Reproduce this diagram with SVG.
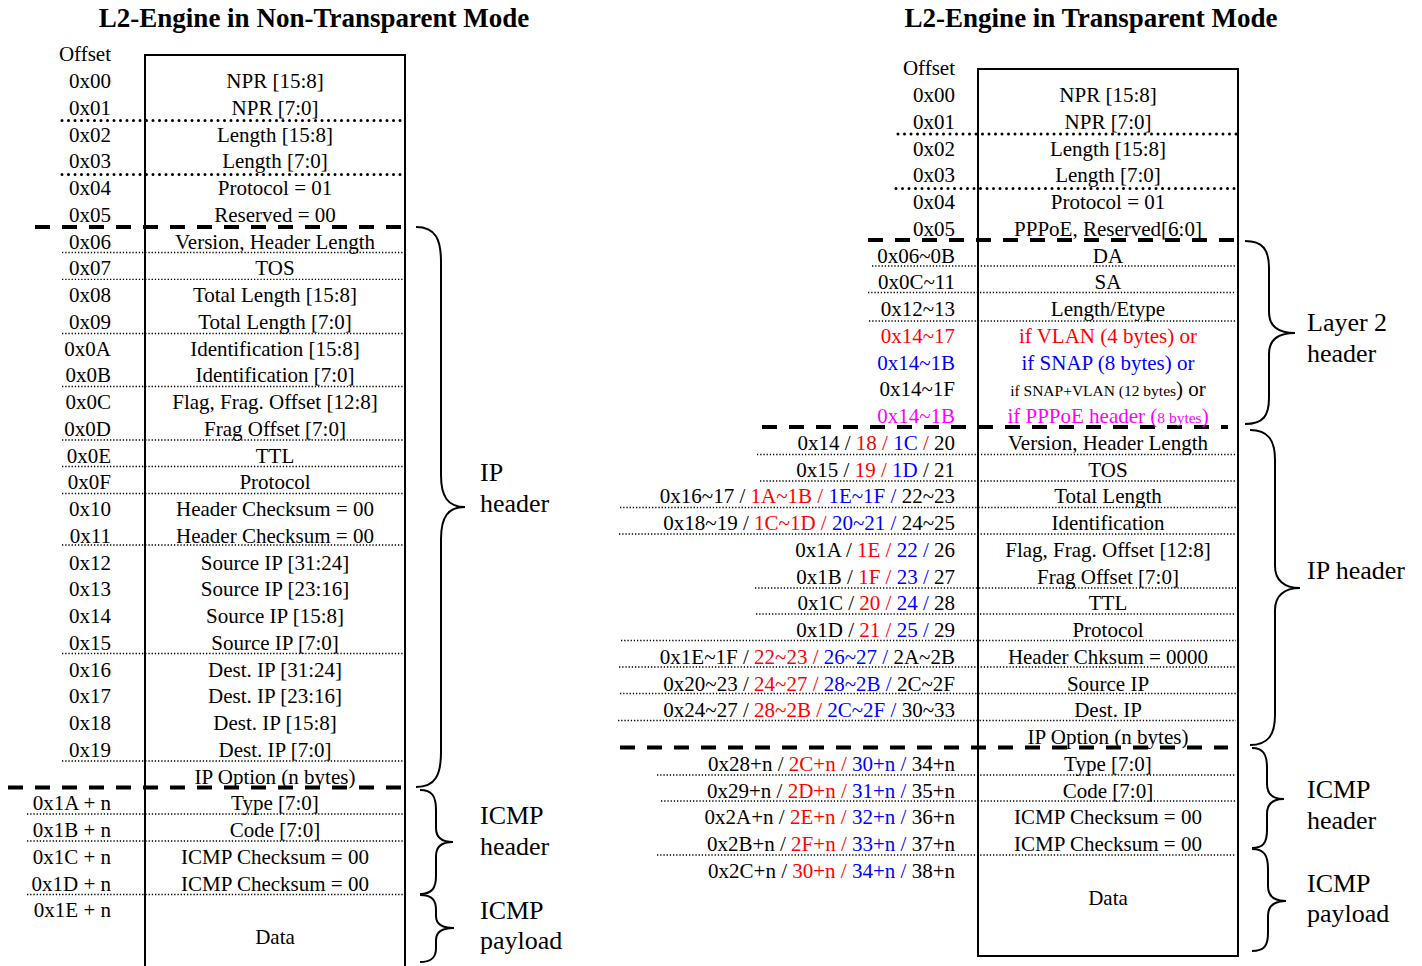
<svg xmlns="http://www.w3.org/2000/svg" width="1422" height="966" viewBox="0 0 1422 966">
<style>
text{font-family:"Liberation Serif","Times New Roman",serif;font-size:21px;fill:#000}
.t{font-weight:bold;font-size:27px;text-anchor:middle}
.o{text-anchor:end}
.c{text-anchor:middle}
.lbl{font-size:26px}
.r{fill:#FF0000}
.b{fill:#0000FF}
.m{fill:#FF00FF}
.sm{font-size:15.5px}
.box{fill:none;stroke:#000;stroke-width:2}
.thin{stroke:#000;stroke-width:1.3;stroke-dasharray:1.3 1.9;fill:none}
.thick{stroke:#000;stroke-width:3;stroke-dasharray:0 6.5;stroke-linecap:round;fill:none}
.dash{stroke:#000;stroke-width:4;stroke-dasharray:15 12;fill:none}
.brace{fill:none;stroke:#000;stroke-width:2}
</style>

<g id="titles">
<text class="t" x="314" y="27">L2-Engine in Non-Transparent Mode</text>
<text class="t" x="1091" y="27">L2-Engine in Transparent Mode</text>
</g>

<!-- LEFT TABLE -->
<g id="left-separators">
<line class="thick" x1="62" y1="120.5" x2="405" y2="120.5"/>
<line class="thick" x1="62" y1="174.5" x2="405" y2="174.5"/>
<line class="dash" x1="35" y1="227" x2="405" y2="227"/>
<line class="thin" x1="62" y1="252.5" x2="403" y2="252.5"/>
<line class="thin" x1="62" y1="279.3" x2="403" y2="279.3"/>
<line class="thin" x1="62" y1="333.5" x2="403" y2="333.5"/>
<line class="thin" x1="62" y1="386.5" x2="403" y2="386.5"/>
<line class="thin" x1="62" y1="440" x2="403" y2="440"/>
<line class="thin" x1="62" y1="466.5" x2="403" y2="466.5"/>
<line class="thin" x1="62" y1="493.5" x2="403" y2="493.5"/>
<line class="thin" x1="62" y1="545" x2="403" y2="545"/>
<line class="thin" x1="62" y1="653.5" x2="403" y2="653.5"/>
<line class="thin" x1="62" y1="761" x2="403" y2="761"/>
<line class="dash" x1="8" y1="787.5" x2="405" y2="787.5"/>
<line class="thin" x1="27" y1="814" x2="403" y2="814"/>
<line class="thin" x1="27" y1="841" x2="403" y2="841"/>
<line class="thin" x1="27" y1="894.5" x2="403" y2="894.5"/>
</g>

<g id="left-box">
<path class="box" d="M145 966 V55 H405 V966"/>
</g>

<g id="left-offsets">
<text class="o" x="111" y="61">Offset</text>
<text class="o" x="111" y="88">0x00</text>
<text class="o" x="111" y="114.75">0x01</text>
<text class="o" x="111" y="141.5">0x02</text>
<text class="o" x="111" y="168.25">0x03</text>
<text class="o" x="111" y="195">0x04</text>
<text class="o" x="111" y="221.75">0x05</text>
<text class="o" x="111" y="248.5">0x06</text>
<text class="o" x="111" y="275.25">0x07</text>
<text class="o" x="111" y="302">0x08</text>
<text class="o" x="111" y="328.75">0x09</text>
<text class="o" x="111" y="355.5">0x0A</text>
<text class="o" x="111" y="382.25">0x0B</text>
<text class="o" x="111" y="409">0x0C</text>
<text class="o" x="111" y="435.75">0x0D</text>
<text class="o" x="111" y="462.5">0x0E</text>
<text class="o" x="111" y="489.25">0x0F</text>
<text class="o" x="111" y="516">0x10</text>
<text class="o" x="111" y="542.75">0x11</text>
<text class="o" x="111" y="569.5">0x12</text>
<text class="o" x="111" y="596.25">0x13</text>
<text class="o" x="111" y="623">0x14</text>
<text class="o" x="111" y="649.75">0x15</text>
<text class="o" x="111" y="676.5">0x16</text>
<text class="o" x="111" y="703.25">0x17</text>
<text class="o" x="111" y="730">0x18</text>
<text class="o" x="111" y="756.75">0x19</text>
<text class="o" x="111" y="810.25">0x1A + n</text>
<text class="o" x="111" y="837">0x1B + n</text>
<text class="o" x="111" y="863.75">0x1C + n</text>
<text class="o" x="111" y="890.5">0x1D + n</text>
<text class="o" x="111" y="917.25">0x1E + n</text>
</g>

<g id="left-fields">
<text class="c" x="275" y="88">NPR [15:8]</text>
<text class="c" x="275" y="114.75">NPR [7:0]</text>
<text class="c" x="275" y="141.5">Length [15:8]</text>
<text class="c" x="275" y="168.25">Length [7:0]</text>
<text class="c" x="275" y="195">Protocol = 01</text>
<text class="c" x="275" y="221.75">Reserved = 00</text>
<text class="c" x="275" y="248.5">Version, Header Length</text>
<text class="c" x="275" y="275.25">TOS</text>
<text class="c" x="275" y="302">Total Length [15:8]</text>
<text class="c" x="275" y="328.75">Total Length [7:0]</text>
<text class="c" x="275" y="355.5">Identification [15:8]</text>
<text class="c" x="275" y="382.25">Identification [7:0]</text>
<text class="c" x="275" y="409">Flag, Frag. Offset [12:8]</text>
<text class="c" x="275" y="435.75">Frag Offset [7:0]</text>
<text class="c" x="275" y="462.5">TTL</text>
<text class="c" x="275" y="489.25">Protocol</text>
<text class="c" x="275" y="516">Header Checksum = 00</text>
<text class="c" x="275" y="542.75">Header Checksum = 00</text>
<text class="c" x="275" y="569.5">Source IP [31:24]</text>
<text class="c" x="275" y="596.25">Source IP [23:16]</text>
<text class="c" x="275" y="623">Source IP [15:8]</text>
<text class="c" x="275" y="649.75">Source IP [7:0]</text>
<text class="c" x="275" y="676.5">Dest. IP [31:24]</text>
<text class="c" x="275" y="703.25">Dest. IP [23:16]</text>
<text class="c" x="275" y="730">Dest. IP [15:8]</text>
<text class="c" x="275" y="756.75">Dest. IP [7:0]</text>
<text class="c" x="275" y="783.5">IP Option (n bytes)</text>
<text class="c" x="275" y="810.25">Type [7:0]</text>
<text class="c" x="275" y="837">Code [7:0]</text>
<text class="c" x="275" y="863.75">ICMP Checksum = 00</text>
<text class="c" x="275" y="890.5">ICMP Checksum = 00</text>
<text class="c" x="275" y="944">Data</text>
</g>

<g id="left-braces">
<path class="brace" d="M416 227 C436 227 441 240 441 262 L441 475 C441 497 448 507 465 507 C448 507 441 517 441 539 L441 752 C441 774 436 787 416 787"/>
<path class="brace" d="M420 790 C432 790 436 796 436 810 L436 828 C436 838 442 842 453 842 C442 842 436 846 436 856 L436 876 C436 888 432 894 420 894"/>
<path class="brace" d="M420 895 C432 895 436 900 436 910 L436 916 C436 924 442 928 454 928 C442 928 436 932 436 940 L436 948 C436 957 432 962 420 962"/>
<text class="lbl" x="480" y="481">IP</text>
<text class="lbl" x="480" y="512">header</text>
<text class="lbl" x="480" y="824">ICMP</text>
<text class="lbl" x="480" y="855">header</text>
<text class="lbl" x="480" y="919">ICMP</text>
<text class="lbl" x="480" y="949">payload</text>
</g>

<!-- RIGHT TABLE -->
<g id="right-separators">
<line class="thick" x1="898" y1="134" x2="1238" y2="134"/>
<line class="thick" x1="896" y1="188.5" x2="1238" y2="188.5"/>
<line class="dash" x1="868" y1="240" x2="1238" y2="240"/>
<line class="thin" x1="872" y1="266" x2="1236" y2="266"/>
<line class="thin" x1="868" y1="292.5" x2="1236" y2="292.5"/>
<line class="thin" x1="869" y1="321" x2="1236" y2="321"/>
<line class="dash" x1="762" y1="427" x2="1228" y2="427"/>
<line class="thin" x1="757" y1="454.5" x2="1236" y2="454.5"/>
<line class="thin" x1="760" y1="481" x2="1236" y2="481"/>
<line class="thin" x1="620" y1="507.5" x2="1236" y2="507.5"/>
<line class="thin" x1="619" y1="534" x2="1236" y2="534"/>
<line class="thin" x1="755" y1="588" x2="1236" y2="588"/>
<line class="thin" x1="756" y1="614" x2="1236" y2="614"/>
<line class="thin" x1="621" y1="640.5" x2="1236" y2="640.5"/>
<line class="thin" x1="619" y1="667" x2="1236" y2="667"/>
<line class="thin" x1="620" y1="693.5" x2="1236" y2="693.5"/>
<line class="thin" x1="618" y1="720.5" x2="1236" y2="720.5"/>
<line class="dash" x1="620" y1="747.5" x2="1228" y2="747.5"/>
<line class="thin" x1="657" y1="775" x2="1236" y2="775"/>
<line class="thin" x1="661" y1="801" x2="1236" y2="801"/>
<line class="thin" x1="657" y1="855" x2="1236" y2="855"/>
</g>

<g id="right-box">
<rect class="box" x="978" y="69" width="260" height="887"/>
</g>

<g id="right-offsets">
<text class="o" x="955" y="75">Offset</text>
<text class="o" x="955" y="102">0x00</text>
<text class="o" x="955" y="128.75">0x01</text>
<text class="o" x="955" y="155.5">0x02</text>
<text class="o" x="955" y="182.25">0x03</text>
<text class="o" x="955" y="209">0x04</text>
<text class="o" x="955" y="235.75">0x05</text>
<text class="o" x="955" y="262.5">0x06~0B</text>
<text class="o" x="955" y="289.25">0x0C~11</text>
<text class="o" x="955" y="316">0x12~13</text>
<text class="o r" x="955" y="342.75">0x14~17</text>
<text class="o b" x="955" y="369.5">0x14~1B</text>
<text class="o" x="955" y="396.25">0x14~1F</text>
<text class="o m" x="955" y="423">0x14~1B</text>
<text class="o" x="955" y="449.75">0x14 / <tspan class="r">18 / </tspan><tspan class="b">1C</tspan><tspan class="r"> / </tspan>20</text>
<text class="o" x="955" y="476.5">0x15 / <tspan class="r">19 / </tspan><tspan class="b">1D</tspan> / 21</text>
<text class="o" x="955" y="503.25">0x16~17 / <tspan class="r">1A~1B / </tspan><tspan class="b">1E~1F / </tspan>22~23</text>
<text class="o" x="955" y="530">0x18~19 / <tspan class="r">1C~1D / </tspan><tspan class="b">20~21 / </tspan>24~25</text>
<text class="o" x="955" y="556.75">0x1A / <tspan class="r">1E / </tspan><tspan class="b">22 / </tspan>26</text>
<text class="o" x="955" y="583.5">0x1B / <tspan class="r">1F / </tspan><tspan class="b">23 / </tspan>27</text>
<text class="o" x="955" y="610.25">0x1C / <tspan class="r">20 / </tspan><tspan class="b">24 / </tspan>28</text>
<text class="o" x="955" y="637">0x1D / <tspan class="r">21 / </tspan><tspan class="b">25 / </tspan>29</text>
<text class="o" x="955" y="663.75">0x1E~1F / <tspan class="r">22~23 / </tspan><tspan class="b">26~27 / </tspan>2A~2B</text>
<text class="o" x="955" y="690.5">0x20~23 / <tspan class="r">24~27 / </tspan><tspan class="b">28~2B / </tspan>2C~2F</text>
<text class="o" x="955" y="717.25">0x24~27 / <tspan class="r">28~2B / </tspan><tspan class="b">2C~2F / </tspan>30~33</text>
<text class="o" x="955" y="770.75">0x28+n / <tspan class="r">2C+n / </tspan><tspan class="b">30+n / </tspan>34+n</text>
<text class="o" x="955" y="797.5">0x29+n / <tspan class="r">2D+n / </tspan><tspan class="b">31+n / </tspan>35+n</text>
<text class="o" x="955" y="824.25">0x2A+n / <tspan class="r">2E+n / </tspan><tspan class="b">32+n / </tspan>36+n</text>
<text class="o" x="955" y="851">0x2B+n / <tspan class="r">2F+n / </tspan><tspan class="b">33+n / </tspan>37+n</text>
<text class="o" x="955" y="877.75">0x2C+n / <tspan class="r">30+n / </tspan><tspan class="b">34+n / </tspan>38+n</text>
</g>

<g id="right-fields">
<text class="c" x="1108" y="102">NPR [15:8]</text>
<text class="c" x="1108" y="128.75">NPR [7:0]</text>
<text class="c" x="1108" y="155.5">Length [15:8]</text>
<text class="c" x="1108" y="182.25">Length [7:0]</text>
<text class="c" x="1108" y="209">Protocol = 01</text>
<text class="c" x="1108" y="235.75">PPPoE, Reserved[6:0]</text>
<text class="c" x="1108" y="262.5">DA</text>
<text class="c" x="1108" y="289.25">SA</text>
<text class="c" x="1108" y="316">Length/Etype</text>
<text class="c r" x="1108" y="342.75">if VLAN (4 bytes) or</text>
<text class="c b" x="1108" y="369.5">if SNAP (8 bytes) or</text>
<text class="c" x="1108" y="396.25"><tspan class="sm">if SNAP+VLAN (12 bytes</tspan>) or</text>
<text class="c m" x="1108" y="423">if PPPoE header (<tspan class="sm">8 bytes</tspan>)</text>
<text class="c" x="1108" y="449.75">Version, Header Length</text>
<text class="c" x="1108" y="476.5">TOS</text>
<text class="c" x="1108" y="503.25">Total Length</text>
<text class="c" x="1108" y="530">Identification</text>
<text class="c" x="1108" y="556.75">Flag, Frag. Offset [12:8]</text>
<text class="c" x="1108" y="583.5">Frag Offset [7:0]</text>
<text class="c" x="1108" y="610.25">TTL</text>
<text class="c" x="1108" y="637">Protocol</text>
<text class="c" x="1108" y="663.75">Header Chksum = 0000</text>
<text class="c" x="1108" y="690.5">Source IP</text>
<text class="c" x="1108" y="717.25">Dest. IP</text>
<text class="c" x="1108" y="744">IP Option (n bytes)</text>
<text class="c" x="1108" y="770.75">Type [7:0]</text>
<text class="c" x="1108" y="797.5">Code [7:0]</text>
<text class="c" x="1108" y="824.25">ICMP Checksum = 00</text>
<text class="c" x="1108" y="851">ICMP Checksum = 00</text>
<text class="c" x="1108" y="904.5">Data</text>
</g>

<g id="right-braces">
<path class="brace" d="M1245 241 C1263 241 1269 250 1269 268 L1269 312 C1269 326 1278 333 1295 333 C1278 333 1269 340 1269 354 L1269 398 C1269 416 1263 424 1245 424"/>
<path class="brace" d="M1250 430 C1268 430 1275 440 1275 460 L1275 566 C1275 580 1284 588 1300 588 C1284 588 1275 596 1275 610 L1275 715 C1275 735 1268 745 1250 745"/>
<path class="brace" d="M1252 748 C1263 748 1267 754 1267 768 L1267 784 C1267 794 1273 799 1284 799 C1273 799 1267 804 1267 814 L1267 830 C1267 843 1263 848 1252 848"/>
<path class="brace" d="M1252 849 C1264 849 1268 855 1268 869 L1268 886 C1268 896 1274 901 1286 901 C1274 901 1268 906 1268 916 L1268 933 C1268 946 1264 951 1252 951"/>
<text class="lbl" x="1307" y="331">Layer 2</text>
<text class="lbl" x="1307" y="362">header</text>
<text class="lbl" x="1307" y="579">IP header</text>
<text class="lbl" x="1307" y="798">ICMP</text>
<text class="lbl" x="1307" y="829">header</text>
<text class="lbl" x="1307" y="892">ICMP</text>
<text class="lbl" x="1307" y="922">payload</text>
</g>
</svg>
